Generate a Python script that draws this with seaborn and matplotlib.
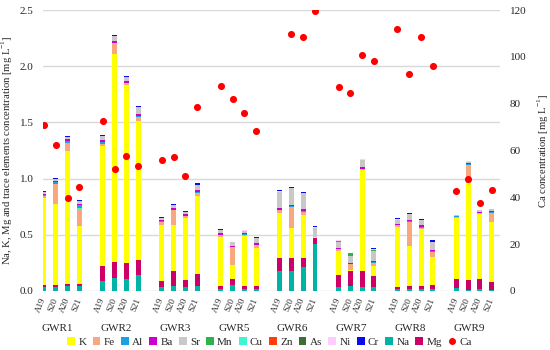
import numpy as np
import pandas as pd
import matplotlib
matplotlib.use("Agg")
import matplotlib.pyplot as plt
import matplotlib.transforms as mtransforms
from matplotlib.patches import Patch
from matplotlib.lines import Line2D
import seaborn as sns

# ---------------- data ----------------
groups = ["GWR1", "GWR2", "GWR3", "GWR5", "GWR6", "GWR7", "GWR8", "GWR9"]
samples = ["A19", "S20", "A20", "S21"]

Na = [0.035, 0.035, 0.045, 0.045,  0.09, 0.12, 0.105, 0.14,  0.035, 0.045, 0.035, 0.04,
      0.02, 0.055, 0.02, 0.02,  0.18, 0.18, 0.21, 0.42,  0.033, 0.04, 0.033, 0.033,
      0.015, 0.015, 0.015, 0.015,  0.024, 0.01, 0.015, 0.006]
Mg = [0.02, 0.02, 0.02, 0.02,  0.13, 0.14, 0.14, 0.135,  0.055, 0.13, 0.06, 0.11,
      0.027, 0.05, 0.025, 0.02,  0.11, 0.11, 0.08, 0.055,  0.11, 0.14, 0.145, 0.10,
      0.024, 0.03, 0.032, 0.035,  0.083, 0.09, 0.092, 0.074]
K = [0.77, 0.72, 1.18, 0.515,  1.07, 1.85, 1.59, 1.24,  0.50, 0.41, 0.555, 0.695,
     0.436, 0.127, 0.44, 0.34,  0.405, 0.27, 0.39, 0.005,  0.21, 0.01, 0.90, 0.09,
     0.527, 0.355, 0.505, 0.255,  0.54, 0.86, 0.575, 0.537]
Fe = [0.02, 0.18, 0.065, 0.15,  0.02, 0.095, 0.015, 0.03,  0.02, 0.135, 0.015, 0.03,
      0.015, 0.155, 0.015, 0.025,  0.025, 0.19, 0.025, 0.0,  0.02, 0.05, 0.005, 0.03,
      0.018, 0.217, 0.011, 0.045,  0.014, 0.163, 0.009, 0.08]
Zn = [0.0, 0.0, 0.002, 0.0,  0.0, 0.0, 0.0, 0.0,  0.0, 0.0, 0.0, 0.0,
      0.0, 0.0, 0.0, 0.0,  0.0, 0.0, 0.0, 0.0,  0.0, 0.0, 0.0, 0.0,
      0.0, 0.0, 0.0, 0.0,  0.0, 0.0, 0.0, 0.0]
Cu = [0.0, 0.0, 0.005, 0.01,  0.0, 0.0, 0.0, 0.0,  0.0, 0.0, 0.0, 0.0,
      0.0, 0.0, 0.0, 0.0,  0.0, 0.0, 0.0, 0.0,  0.0, 0.0, 0.0, 0.0,
      0.0, 0.0, 0.0, 0.0,  0.0, 0.0, 0.0, 0.0]
Al = [0.01, 0.015, 0.02, 0.025,  0.015, 0.003, 0.005, 0.01,  0.01, 0.003, 0.003, 0.005,
      0.003, 0.003, 0.003, 0.003,  0.003, 0.003, 0.003, 0.0,  0.003, 0.0, 0.003, 0.003,
      0.003, 0.003, 0.003, 0.003,  0.003, 0.008, 0.003, 0.009]
Ba = [0.01, 0.005, 0.012, 0.01,  0.015, 0.018, 0.015, 0.02,  0.01, 0.015, 0.015, 0.02,
      0.015, 0.008, 0.015, 0.015,  0.015, 0.015, 0.02, 0.003,  0.01, 0.01, 0.015, 0.012,
      0.012, 0.015, 0.018, 0.015,  0.005, 0.006, 0.009, 0.009]
Sr = [0.015, 0.02, 0.02, 0.025,  0.04, 0.04, 0.03, 0.06,  0.02, 0.025, 0.02, 0.045,
      0.025, 0.036, 0.02, 0.045,  0.145, 0.145, 0.14, 0.08,  0.053, 0.065, 0.068, 0.085,
      0.036, 0.05, 0.045, 0.068,  0.005, 0.015, 0.015, 0.012]
Mn = [0.0, 0.0, 0.0, 0.0,  0.0, 0.0, 0.0, 0.0,  0.0, 0.0, 0.0, 0.0,
      0.0, 0.0, 0.0, 0.0,  0.0, 0.0, 0.003, 0.0,  0.01, 0.02, 0.0, 0.015,
      0.0, 0.0, 0.0, 0.0,  0.0, 0.0, 0.0, 0.0]
As = [0.0] * 32
Ni = [0.003, 0.002, 0.003, 0.003,  0.003, 0.003, 0.003, 0.002,  0.003, 0.002, 0.003, 0.002,
      0.003, 0.002, 0.002, 0.003,  0.004, 0.003, 0.003, 0.002,  0.002, 0.002, 0.003, 0.002,
      0.003, 0.002, 0.002, 0.003,  0.002, 0.003, 0.002, 0.002]
Cr = [0.005, 0.005, 0.005, 0.005,  0.005, 0.007, 0.01, 0.01,  0.005, 0.005, 0.005, 0.01,
      0.005, 0.003, 0.005, 0.008,  0.015, 0.01, 0.01, 0.01,  0.005, 0.003, 0.005, 0.015,
      0.008, 0.008, 0.009, 0.015,  0.003, 0.004, 0.005, 0.003]
Ca = [70.7, 62.5, 39.9, 44.3,  72.7, 52.0, 57.8, 53.2,  56.1, 57.2, 49.3, 78.6,
      87.7, 81.9, 76.2, 68.2,  np.nan, 109.6, 108.5, 119.4,  87.3, 84.4, 100.8, 98.1,
      111.9, 92.8, 108.6, 96.1,  42.8, 48.0, 37.6, 43.3]

series = {"Na": Na, "Mg": Mg, "K": K, "Fe": Fe, "Zn": Zn, "Cu": Cu, "Al": Al,
          "Ba": Ba, "Sr": Sr, "Mn": Mn, "As": As, "Ni": Ni, "Cr": Cr}
stack_order = ["Na", "Mg", "K", "Fe", "Zn", "Cu", "Al", "Ba", "Sr", "Mn", "As", "Ni", "Cr"]
legend_order = ["K", "Fe", "Al", "Ba", "Sr", "Mn", "Cu", "Zn", "As", "Ni", "Cr", "Na", "Mg"]
colors = {"K": "#FFFF00", "Fe": "#F9A77F", "Al": "#1BA1E2", "Ba": "#CC00CC",
          "Sr": "#C8C8C8", "Mn": "#2DB34A", "Cu": "#3CF5D2", "Zn": "#FF3D0D",
          "As": "#3C6E35", "Ni": "#FFCCFF", "Cr": "#0A0AF0", "Na": "#00B3A6",
          "Mg": "#CC0066"}
ca_color = "#FF0000"

# positions: 4 bars per group with one empty slot between groups
slots = np.array([g * 5 + s for g in range(len(groups)) for s in range(len(samples))], dtype=float)
df = pd.DataFrame({"slot": slots, **{k: np.array(v, dtype=float) for k, v in series.items()},
                   "Ca": np.array(Ca, dtype=float)})
cum = 0
for el in stack_order:
    cum = cum + df[el]
    df["cum_" + el] = cum

# ---------------- plot ----------------
sns.set_theme(style="white")
plt.rcParams["font.family"] = ["Liberation Serif", "DejaVu Serif"]
txt = "#262626"

fig = plt.figure(figsize=(5.5, 3.5), dpi=100)
ax = fig.add_axes([0.0787, 0.1686, 0.8304, 0.8028])

for el in reversed(stack_order):
    sns.barplot(data=df, x="slot", y="cum_" + el, color=colors[el], native_scale=True,
                width=0.42, saturation=1, errorbar=None, linewidth=0, ax=ax)

ax.set_ylim(0, 2.5)
ax.set_yticks(np.arange(0, 2.51, 0.5))
ax.set_yticklabels([f"{v:.1f}" for v in np.arange(0, 2.51, 0.5)], fontsize=8, color=txt)
ax.yaxis.grid(True, color="#D9D9D9", linewidth=1)
ax.xaxis.grid(False)
ax.set_axisbelow(True)
for sp in ax.spines.values():
    sp.set_visible(False)
ax.tick_params(axis="both", length=0)
ax.tick_params(axis="y", pad=7)
ax.set_xlabel("")
ax.set_ylabel(r"Na, K, Mg and trace elements concentration [mg L$^{\mathregular{-1}}$]",
              fontsize=7.7, color=txt)
ax.yaxis.set_label_coords(-0.062, 0.5)

ax2 = ax.twinx()
sns.scatterplot(data=df, x="slot", y="Ca", color=ca_color, s=26, linewidth=0, ax=ax2,
                zorder=5, legend=False)
ax2.set_ylim(0, 120)
ax2.set_yticks(np.arange(0, 121, 20))
ax2.set_yticklabels([str(v) for v in range(0, 121, 20)], fontsize=8, color=txt)
ax2.grid(False)
for sp in ax2.spines.values():
    sp.set_visible(False)
ax2.tick_params(axis="y", length=0, pad=7)
ax2.set_ylabel(r"Ca concentration [mg L$^{\mathregular{-1}}$]", fontsize=7.7, color=txt, rotation=90)
ax2.yaxis.set_label_coords(1.079, 0.5)

ax.set_xlim(-0.06, 38.7)
ax.set_xticks(slots)
ax.set_xticklabels(samples * len(groups), rotation=68, ha="right", va="center",
                   rotation_mode="anchor", fontsize=6.5, color=txt)
ax.tick_params(axis="x", pad=5)
ax2.set_xlim(-0.06, 38.7)

trans = mtransforms.blended_transform_factory(ax.transData, ax.transAxes)
for gi, g in enumerate(groups):
    cx = gi * 5 + 1.5 - 0.4
    ax.text(cx, -0.132, g, transform=trans, ha="center", va="center", fontsize=8, color=txt)

handles = [Patch(facecolor=colors[e], edgecolor="none") for e in legend_order]
handles.append(Line2D([], [], marker="o", color=ca_color, linestyle="none", markersize=4))
labels = legend_order + ["Ca"]
fig.legend(handles, labels, loc="center", bbox_to_anchor=(0.49, 0.023), ncol=14,
           frameon=False, fontsize=8, handlelength=0.7, handleheight=0.7,
           handletextpad=0.3, columnspacing=0.55, labelcolor=txt)

fig.savefig("out.png", dpi=100)
